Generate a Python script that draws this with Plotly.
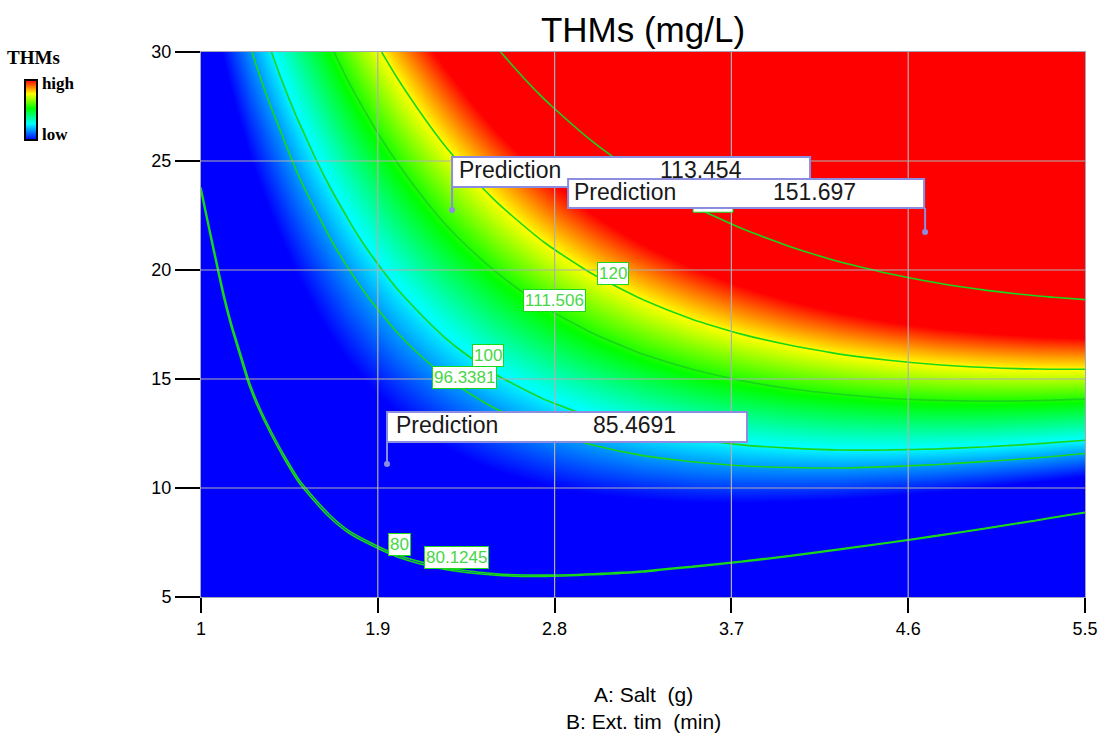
import plotly.graph_objects as go

# ---------------- data ----------------
salt_g = [1.0, 1.25, 1.5, 1.75, 2.0, 2.25, 2.5, 2.75, 3.0, 3.25, 3.5, 3.75,
          4.0, 4.25, 4.5, 4.75, 5.0, 5.25, 5.5]
ext_time_min = [5.0, 6.25, 7.5, 8.75, 10.0, 11.25, 12.5, 13.75, 15.0, 16.25, 17.5,
                18.75, 20.0, 21.25, 22.5, 23.75, 25.0, 26.25, 27.5, 28.75, 30.0]
# THMs (mg/L) estimated on the grid: one row per ext_time value, one column per salt value
thms = [
    [73.3, 74.8, 76.0, 76.9, 77.5, 77.9, 78.0, 77.8, 77.3, 76.6, 75.6, 74.3, 72.7, 70.8, 68.7, 66.3, 63.6, 60.6, 57.3],
    [73.3, 75.2, 76.8, 78.2, 79.2, 80.0, 80.5, 80.7, 80.6, 80.3, 79.6, 78.7, 77.5, 76.1, 74.3, 72.3, 70.0, 67.5, 64.6],
    [73.5, 75.8, 77.8, 79.5, 80.9, 82.1, 83.0, 83.6, 83.9, 84.0, 83.8, 83.3, 82.5, 81.4, 80.1, 78.5, 76.6, 74.4, 71.9],
    [73.7, 76.4, 78.8, 80.9, 82.7, 84.3, 85.6, 86.6, 87.3, 87.8, 88.0, 87.9, 87.5, 86.8, 85.9, 84.7, 83.2, 81.4, 79.3],
    [73.9, 77.0, 79.8, 82.3, 84.6, 86.6, 88.2, 89.7, 90.8, 91.6, 92.2, 92.5, 92.5, 92.3, 91.7, 90.9, 89.8, 88.4, 86.8],
    [74.2, 77.7, 80.9, 83.9, 86.5, 88.9, 91.0, 92.8, 94.3, 95.6, 96.5, 97.2, 97.6, 97.8, 97.6, 97.2, 96.5, 95.6, 94.3],
    [74.6, 78.5, 82.1, 85.4, 88.5, 91.3, 93.7, 96.0, 97.9, 99.5, 100.9, 102.0, 102.8, 103.4, 103.6, 103.6, 103.3, 102.7, 101.9],
    [75.1, 79.4, 83.4, 87.1, 90.5, 93.7, 96.6, 99.2, 101.5, 103.6, 105.4, 106.9, 108.1, 109.0, 109.7, 110.1, 110.2, 110.0, 109.5],
    [75.6, 80.3, 84.7, 88.8, 92.6, 96.2, 99.5, 102.5, 105.2, 107.7, 109.9, 111.8, 113.4, 114.7, 115.8, 116.6, 117.1, 117.3, 117.2],
    [76.0, 81.2, 86.0, 90.6, 94.8, 98.8, 102.5, 105.9, 109.0, 111.9, 114.4, 116.7, 118.7, 120.5, 121.9, 123.1, 124.0, 124.7, 125.0],
    [76.5, 82.3, 87.5, 92.4, 97.0, 101.4, 105.5, 109.3, 112.8, 116.1, 119.1, 121.8, 124.2, 126.3, 128.2, 129.8, 131.1, 132.1, 132.8],
    [77.1, 83.4, 89.0, 94.3, 99.3, 104.1, 108.6, 112.8, 116.7, 120.4, 123.8, 126.9, 129.7, 132.2, 134.5, 136.5, 138.2, 139.6, 140.7],
    [77.7, 84.5, 90.5, 96.2, 101.7, 106.9, 111.7, 116.4, 120.7, 124.7, 128.5, 132.0, 135.2, 138.2, 140.8, 143.2, 145.3, 147.1, 148.7],
    [78.4, 85.7, 92.1, 98.3, 104.1, 109.7, 115.0, 120.0, 124.7, 129.2, 133.3, 137.2, 140.8, 144.2, 147.2, 150.0, 152.5, 154.8, 156.7],
    [79.2, 87.0, 93.8, 100.3, 106.6, 112.6, 118.2, 123.7, 128.8, 133.6, 138.2, 142.5, 146.5, 150.3, 153.7, 156.9, 159.8, 162.4, 164.8],
    [80.1, 88.4, 95.6, 102.5, 109.1, 115.5, 121.6, 127.4, 132.9, 138.2, 143.2, 147.9, 152.3, 156.4, 160.3, 163.9, 167.2, 170.2, 172.9],
    [81.1, 89.8, 97.4, 104.7, 111.7, 118.5, 125.0, 131.2, 137.1, 142.8, 148.2, 153.3, 158.1, 162.6, 166.9, 170.9, 174.6, 178.0, 181.1],
    [82.1, 91.2, 99.2, 107.0, 114.4, 121.6, 128.5, 135.1, 141.4, 147.5, 153.2, 158.7, 163.9, 168.9, 173.5, 177.9, 182.0, 185.9, 189.4],
    [83.3, 92.8, 101.2, 109.3, 117.1, 124.7, 132.0, 139.0, 145.7, 152.2, 158.4, 164.3, 169.9, 175.2, 180.3, 185.1, 189.6, 193.8, 197.7],
    [84.5, 94.4, 103.2, 111.7, 119.9, 127.9, 135.6, 143.0, 150.1, 157.0, 163.6, 169.9, 175.9, 181.6, 187.1, 192.3, 197.2, 201.8, 206.1],
    [85.7, 96.0, 105.2, 114.1, 122.8, 131.2, 139.2, 147.1, 154.6, 161.8, 168.8, 175.5, 181.9, 188.1, 193.9, 199.5, 204.8, 209.8, 214.6],
]

contour_levels = [80, 80.1245, 96.3381, 100, 111.506, 120, 140]
contour_label_text = ["80", "80.1245", "96.3381", "100", "111.506", "120"]
contour_label_salt = [2.008, 2.303, 2.339, 2.461, 2.797, 3.097]
contour_label_time = [7.39, 6.79, 15.09, 16.10, 18.58, 19.86]

pred_salt = [2.278, 4.686, 1.947]
pred_time = [22.75, 21.74, 11.10]
pred_value = ["113.454", "151.697", "85.4691"]

x_ticks = [1, 1.9, 2.8, 3.7, 4.6, 5.5]
y_ticks = [5, 10, 15, 20, 25, 30]

# ---------------- styling ----------------
SANS = "Liberation Sans, Arial, sans-serif"
SERIF = "Liberation Serif, Times New Roman, serif"
GREEN_LINE = "rgb(25,215,25)"
BOX_EDGE = "rgb(140,140,225)"

colorscale = [[0.0, "rgb(0,0,255)"], [0.269, "rgb(0,255,255)"], [0.526, "rgb(0,255,0)"],
              [0.769, "rgb(255,255,0)"], [1.0, "rgb(255,0,0)"]]

fig = go.Figure()
fig.add_trace(go.Heatmap(
    x=salt_g, y=ext_time_min, z=thms, zmin=90, zmax=129, zsmooth="best",
    colorscale=colorscale, hoverinfo="skip",
    colorbar=dict(x=-0.199, xanchor="left", xpad=0, y=0.894, yanchor="middle", ypad=0,
                  lenmode="pixels", len=60, thickness=12,
                  outlinecolor="black", outlinewidth=2,
                  tickvals=[127, 94], ticktext=["<b>high</b>", "<b>low</b>"], ticks="",
                  tickfont=dict(family=SERIF, size=17, color="black")),
))

for lv in contour_levels:
    fig.add_trace(go.Contour(
        x=salt_g, y=ext_time_min, z=thms, autocontour=False,
        contours=dict(start=lv, end=lv, size=1, coloring="none", showlabels=False),
        line=dict(color=GREEN_LINE, width=1.6, smoothing=0.8),
        showscale=False, hoverinfo="skip"))

fig.add_trace(go.Scatter(x=pred_salt, y=pred_time, mode="markers",
                         marker=dict(size=6, color=BOX_EDGE), hoverinfo="skip", showlegend=False))

shapes = []
for t in x_ticks[1:-1]:
    shapes.append(dict(type="line", xref="x", yref="y domain", x0=t, x1=t, y0=0, y1=1,
                       line=dict(color="rgb(175,175,175)", width=1.2), layer="above"))
for t in y_ticks[1:-1]:
    shapes.append(dict(type="line", xref="x domain", yref="y", x0=0, x1=1, y0=t, y1=t,
                       line=dict(color="rgb(175,175,175)", width=1.2), layer="above"))

# label box of the 140 contour, mostly hidden under a prediction box
shapes.append(dict(type="rect", xref="x", yref="y", x0=3.505, x1=3.708, y0=22.65, y1=23.3,
                   fillcolor="white", line=dict(color=GREEN_LINE, width=1), layer="above"))

# prediction flags: box offsets (pixels) relative to the predicted point
box_dx = [(0, 358), (-357, -1), (0, 360)]
box_dy = [(23, 53), (24, 53), (22, 52)]
stem_dx = [0, 0, 0]
txt_left = [5, -353, 7]
txt_right = [292, -67, 291]
txt_up = [40, 40, 39]

annotations = []
for i in range(len(pred_salt)):
    shapes.append(dict(type="line", xref="x", yref="y", xsizemode="pixel", ysizemode="pixel",
                       xanchor=pred_salt[i], yanchor=pred_time[i],
                       x0=stem_dx[i], x1=stem_dx[i], y0=0, y1=box_dy[i][0],
                       line=dict(color=BOX_EDGE, width=2), layer="above"))
    shapes.append(dict(type="rect", xref="x", yref="y", xsizemode="pixel", ysizemode="pixel",
                       xanchor=pred_salt[i], yanchor=pred_time[i],
                       x0=box_dx[i][0], x1=box_dx[i][1], y0=box_dy[i][0], y1=box_dy[i][1],
                       fillcolor="white", line=dict(color=BOX_EDGE, width=2), layer="above"))

for i in range(len(contour_label_text)):
    annotations.append(dict(x=contour_label_salt[i], y=contour_label_time[i], xref="x", yref="y",
                            text=contour_label_text[i], showarrow=False,
                            font=dict(family=SANS, size=17, color="rgb(70,215,70)"),
                            bgcolor="white", bordercolor=GREEN_LINE, borderwidth=1, borderpad=1))

for i in range(len(pred_salt)):
    annotations.append(dict(x=pred_salt[i], y=pred_time[i], xref="x", yref="y",
                            text="Prediction", showarrow=False, xanchor="left", yanchor="middle",
                            xshift=txt_left[i], yshift=txt_up[i],
                            font=dict(family=SANS, size=23, color="rgb(25,25,25)")))
    annotations.append(dict(x=pred_salt[i], y=pred_time[i], xref="x", yref="y",
                            text=pred_value[i], showarrow=False, xanchor="right", yanchor="middle",
                            xshift=txt_right[i], yshift=txt_up[i],
                            font=dict(family=SANS, size=23, color="rgb(25,25,25)")))

annotations.append(dict(x=-0.222, y=0.989, xref="paper", yref="paper", xanchor="left", yanchor="middle",
                        text="<b>THMs</b>", showarrow=False,
                        font=dict(family=SERIF, size=19, color="black")))
annotations.append(dict(x=0.5, y=-0.204, xref="paper", yref="paper", xanchor="center", yanchor="middle",
                        text="A: Salt\u00a0\u00a0(g)<br>B: Ext. tim\u00a0\u00a0(min)", showarrow=False,
                        font=dict(family=SANS, size=21, color="black")))

fig.update_layout(
    width=1100, height=738,
    margin=dict(l=201, r=15, t=52, b=141, autoexpand=False),
    paper_bgcolor="white", plot_bgcolor="white",
    showlegend=False,
    title=dict(text="THMs (mg/L)", x=0.5, xref="paper", xanchor="center",
               y=1 - 30 / 738, yref="container", yanchor="middle",
               font=dict(family=SANS, size=35, color="black")),
    xaxis=dict(range=[1, 5.5], tickvals=x_ticks, ticktext=[str(v) for v in x_ticks],
               ticks="outside", ticklen=15, tickwidth=1.5, tickcolor="black",
               showgrid=False, zeroline=False, showline=True, linecolor="rgb(165,165,185)",
               linewidth=1, mirror=True, layer="above traces",
               tickfont=dict(family=SANS, size=18, color="black")),
    yaxis=dict(range=[5, 30], tickvals=y_ticks,
               ticks="outside", ticklen=25, tickwidth=1.5, tickcolor="black",
               showgrid=False, zeroline=False, showline=True, linecolor="rgb(165,165,185)",
               linewidth=1, mirror=True, layer="above traces",
               tickfont=dict(family=SANS, size=18, color="black")),
    shapes=shapes,
    annotations=annotations,
)

fig.write_html("out.html")
